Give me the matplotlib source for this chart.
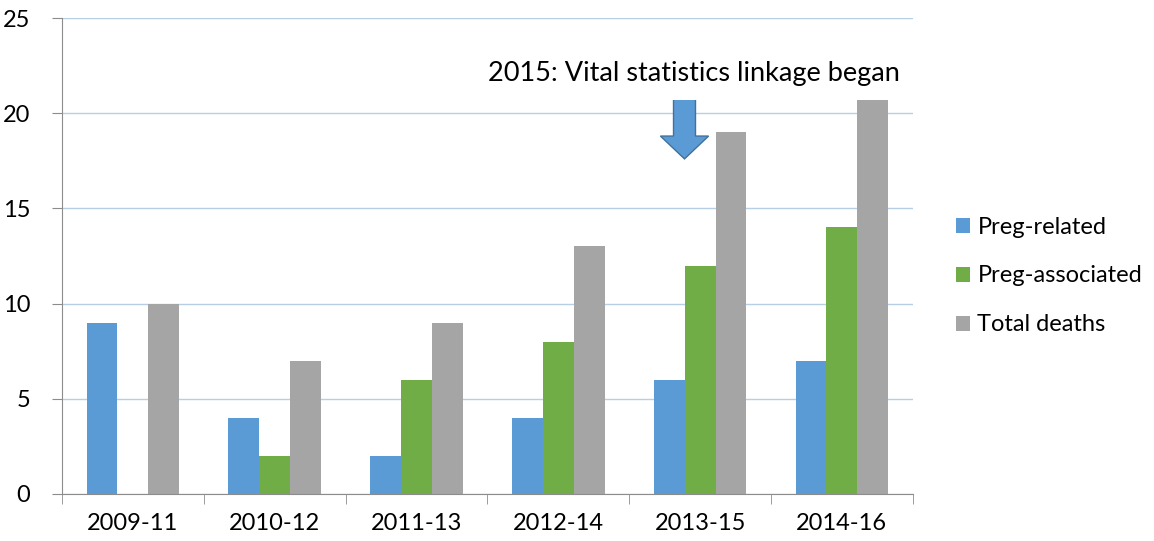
import numpy as np
import matplotlib
matplotlib.use("Agg")
from matplotlib import pyplot as plt
from matplotlib.patches import FancyArrow

plt.rcParams['font.family'] = ['Lato', 'DejaVu Sans']

# data
periods = ["2009-11", "2010-12", "2011-13", "2012-14", "2013-15", "2014-16"]
preg_related = [9, 4, 2, 4, 6, 7]
preg_associated = [0, 2, 6, 8, 12, 14]
total_deaths = [10, 7, 9, 13, 19, 21]

colors = ["#5b9bd5", "#70ad47", "#a5a5a5"]
labels = ["Preg-related", "Preg-associated", "Total deaths"]

fig = plt.figure(figsize=(11.54, 5.41), dpi=100)
ax = fig.add_axes([0.0537, 0.0869, 0.7373, 0.8798])

x = np.arange(len(periods))
w = 0.218
for i, (vals, c, lab) in enumerate(zip([preg_related, preg_associated, total_deaths], colors, labels)):
    ax.bar(x + (i - 1) * w, vals, w, color=c, label=lab, zorder=2)

ax.set_xlim(-0.5, len(periods) - 0.5)
ax.set_ylim(0, 25)
ax.set_yticks([0, 5, 10, 15, 20, 25])
ax.yaxis.grid(True, color="#b7cfe6", linewidth=1, zorder=0)
ax.set_axisbelow(True)

ax.set_xticks(x)
ax.set_xticklabels(periods)
ax.set_xticks(np.arange(len(periods) + 1) - 0.5, minor=True)
ax.tick_params(axis='x', which='major', length=0, pad=14, labelsize=17)
ax.tick_params(axis='x', which='minor', length=7, color="#8c8c8c", direction='out')
ax.tick_params(axis='y', length=7, color="#8c8c8c", labelsize=17, pad=16)

for s in ["top", "right"]:
    ax.spines[s].set_visible(False)
for s in ["left", "bottom"]:
    ax.spines[s].set_color("#8c8c8c")

# block arrow pointing at 2013-15
arrow = FancyArrow(3.89, 21.5, 0, -3.9, width=0.155, head_width=0.34,
                   head_length=1.2, length_includes_head=True,
                   facecolor="#5b9bd5", edgecolor="#41719c", linewidth=1, zorder=3)
ax.add_patch(arrow)

ax.text(3.96, 22.1, "2015: Vital statistics linkage began", fontsize=19.5,
        ha='center', va='center', zorder=5,
        bbox=dict(facecolor='white', edgecolor='none', pad=10))

ax.legend(loc='center left', bbox_to_anchor=(1.026, 0.458), frameon=False,
          fontsize=17, handlelength=0.6, handleheight=0.6, handletextpad=0.3,
          labelspacing=1.18)

fig.savefig("out.png", dpi=100)
